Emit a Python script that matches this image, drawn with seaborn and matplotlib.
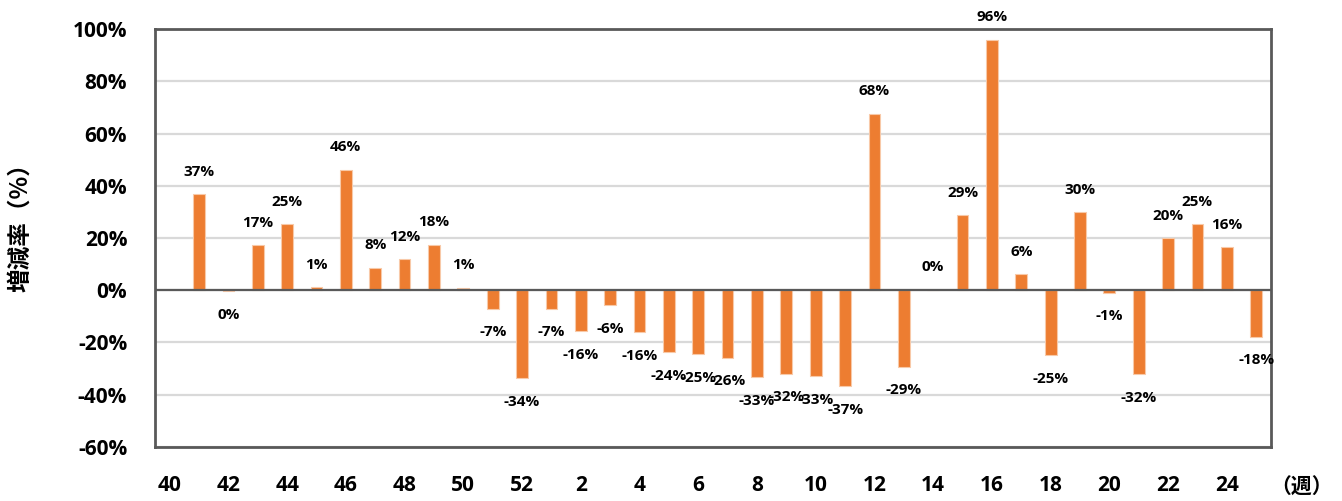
import matplotlib
matplotlib.use("Agg")
import matplotlib.pyplot as plt
import seaborn as sns
import pandas as pd
import numpy as np

weeks_all = [str(w) for w in list(range(40, 53)) + list(range(1, 26))]
weeks_data = [str(w) for w in list(range(41, 53)) + list(range(1, 26))]
values = [36.8, -0.3, 17.3, 25.3, 1.2, 46.2, 8.6, 11.8, 17.4, 1.0, -7.1, -33.8,
          -7.1, -15.7, -5.7, -16.0, -23.8, -24.6, -25.8, -33.2, -31.9, -32.9, -36.8,
          67.6, -29.3, 0.2, 28.8, 95.9, 6.1, -25.0, 29.8, -1.0, -32.2, 20.0, 25.2, 16.4, -17.8]
labels = ["37%", "0%", "17%", "25%", "1%", "46%", "8%", "12%", "18%", "1%", "-7%", "-34%",
          "-7%", "-16%", "-6%", "-16%", "-24%", "-25%", "-26%", "-33%", "-32%", "-33%", "-37%",
          "68%", "-29%", "0%", "29%", "96%", "6%", "-25%", "30%", "-1%", "-32%", "20%", "25%", "16%", "-18%"]
yticks = [-60, -40, -20, 0, 20, 40, 60, 80, 100]

df = pd.DataFrame({"week": weeks_data, "rate": values})

sns.set_theme(style="white")
plt.rcParams['font.family'] = ['Open Sans', 'Noto Sans CJK JP', 'DejaVu Sans']
plt.rcParams['text.color'] = 'black'
plt.rcParams['xtick.color'] = 'black'
plt.rcParams['ytick.color'] = 'black'

fig = plt.figure(figsize=(13.42, 5.01), dpi=100)
ax = fig.add_axes([0.1155, 0.108, 0.947 - 0.1155, 0.834])

sns.barplot(data=df, x="week", y="rate", order=weeks_all, color="#ED7D31",
            saturation=1, width=0.4, edgecolor="#F8C9A8", linewidth=0.8, ax=ax, zorder=3)

ax.set_ylim(-60, 100)
ax.set_xlim(-0.5, len(weeks_all) - 0.5)
ax.set_yticks(yticks)
ax.set_yticklabels([f"{t}%" for t in yticks], fontsize=15, fontweight="bold")
ax.set_xticks(range(len(weeks_all)))
ax.set_xticklabels([w if i % 2 == 0 else "" for i, w in enumerate(weeks_all)],
                   fontsize=15, fontweight="bold")
ax.tick_params(axis="both", length=0, colors="black")
ax.tick_params(axis="y", pad=20)
ax.tick_params(axis="x", pad=20)
ax.set_xlabel("")
ax.set_ylabel("")

ax.yaxis.grid(True, color="#D9D9D9", linewidth=1.6, zorder=0)
ax.set_axisbelow(True)
ax.axhline(0, color="#595959", linewidth=1.6, zorder=4)
for s in ax.spines.values():
    s.set_color("#595959")
    s.set_linewidth(2)

for w, v, lab in zip(weeks_data, values, labels):
    xi = weeks_all.index(w)
    off = 11 if v >= 0 else -12
    ax.annotate(lab, (xi, v), xytext=(0, off), textcoords="offset points",
                ha="center", va="bottom" if v >= 0 else "top",
                fontsize=11, fontweight="bold", color="black", zorder=5)

fig.text(20 / 1342, 1 - 222 / 501, "増減率（%）", rotation=90, ha="center", va="center",
         fontsize=17, fontweight="bold", family=['Noto Sans CJK JP', 'DejaVu Sans'])
fig.text(1302 / 1342, 1 - 487 / 501, "（週）", ha="center", va="center",
         fontsize=15, fontweight="bold", family=['Noto Sans CJK JP', 'DejaVu Sans'])

fig.savefig("out.png", dpi=100)
